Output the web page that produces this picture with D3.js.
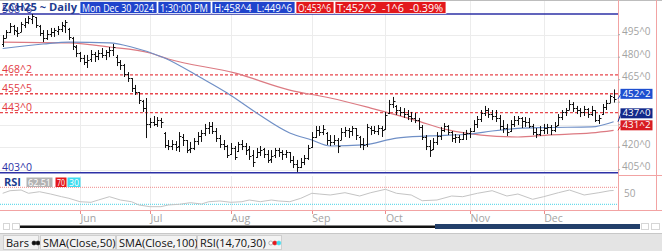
<!DOCTYPE html>
<html>
<head>
<meta charset="utf-8">
<script src="https://cdn.jsdelivr.net/npm/d3@7"></script>
<style>
body { margin: 0; background: #fff; }
svg { display: block; font-family: "Open Sans", "Noto Sans", sans-serif; }
</style>
</head>
<body>
<div id="chart"></div>
<script>
// ZCH25 daily bars, May 2 .. Dec 30 2024 (one entry per trading day)
var barOpen = [
  489.0, 493.0, 497.0, 500.5, 497.5, 497.0, 501.5, 503.5, 505.5, 506.5,
  501.0, 496.0, 493.0, 495.5, 497.0, 497.5, 498.5, 501.0, 498.5, 493.0,
  487.0, 482.5, 479.5, 477.0, 478.5, 482.0, 481.0, 483.0, 481.5, 483.5,
  485.0, 480.0, 477.0, 475.0, 469.0, 466.0, 459.5, 456.5, 451.0, 446.0,
  435.5, 437.0, 435.5, 438.0, 429.5, 421.5, 421.0, 422.0, 420.5, 427.0,
  424.5, 418.5, 419.5, 424.0, 427.5, 429.5, 433.0, 434.0, 430.5, 426.0,
  422.0, 420.5, 415.5, 419.5, 417.5, 422.0, 421.0, 418.5, 414.5, 413.5,
  417.0, 418.5, 415.5, 412.0, 414.5, 418.0, 417.0, 415.5, 416.5, 411.5,
  408.5, 407.0, 410.0, 413.0, 420.0, 427.0, 431.5, 430.0, 429.5, 425.0,
  423.5, 424.5, 425.0, 430.0, 431.5, 430.5, 432.5, 427.0, 422.0, 422.0,
  433.0, 431.5, 430.5, 432.5, 432.0, 442.5, 448.5, 447.5, 445.0, 443.5,
  442.0, 441.0, 439.5, 438.0, 433.5, 426.5, 421.0, 418.5, 423.5, 427.5,
  431.5, 434.0, 430.0, 426.0, 427.0, 425.5, 428.5, 429.5, 431.0, 435.5,
  439.0, 443.0, 445.0, 442.0, 441.0, 439.5, 434.0, 433.0, 430.5, 435.5,
  438.0, 439.5, 437.5, 437.0, 434.0, 430.0, 429.0, 431.5, 433.0, 433.5,
  431.5, 434.5, 440.0, 443.5, 445.0, 448.5, 446.0, 445.0, 443.5, 445.5,
  442.0, 444.5, 438.0, 442.0, 447.0, 449.75, 453.75
];
var barHigh = [
  494.8, 498.1, 502.8, 501.5, 500.1, 503.5, 506.1, 507.5, 508.8, 506.8,
  501.5, 498.1, 498.1, 499.5, 499.5, 500.8, 503.5, 504.8, 499.5, 493.5,
  488.1, 483.5, 481.5, 481.5, 484.8, 483.5, 484.8, 486.1, 484.8, 486.8,
  488.8, 481.5, 478.1, 475.5, 470.1, 466.1, 461.5, 456.8, 451.5, 452.8,
  439.5, 440.8, 440.1, 439.5, 430.1, 424.8, 424.8, 424.1, 430.1, 428.8,
  424.8, 423.5, 426.1, 430.1, 431.5, 435.5, 436.8, 436.8, 432.8, 428.1,
  424.8, 421.5, 422.8, 420.8, 423.5, 424.8, 422.8, 420.8, 418.1, 419.5,
  420.8, 419.5, 418.1, 418.1, 419.5, 419.5, 418.1, 418.1, 416.8, 414.1,
  411.5, 412.8, 414.8, 421.5, 430.1, 434.1, 434.1, 434.8, 430.1, 428.1,
  428.1, 426.1, 432.8, 433.5, 432.8, 434.1, 432.8, 427.5, 426.1, 435.5,
  434.1, 434.1, 434.8, 434.1, 443.5, 451.5, 453.5, 448.1, 446.8, 446.1,
  444.8, 443.5, 442.8, 439.5, 434.8, 428.1, 424.8, 426.1, 430.1, 433.5,
  436.1, 434.8, 430.8, 428.8, 428.1, 430.1, 431.5, 432.8, 438.1, 440.8,
  444.8, 447.5, 446.1, 444.8, 444.8, 441.5, 438.1, 435.5, 438.1, 440.8,
  440.8, 440.1, 440.1, 439.5, 435.5, 432.8, 434.1, 435.5, 435.5, 434.8,
  436.8, 442.1, 444.8, 446.1, 451.5, 450.1, 447.5, 446.1, 447.5, 446.1,
  447.5, 444.8, 441.5, 448.8, 451.5, 455.0, 458.5
];
var barLow = [
  486.8, 492.8, 496.1, 494.8, 493.5, 496.8, 499.5, 502.1, 502.1, 499.5,
  494.1, 490.1, 491.5, 493.5, 493.5, 494.8, 496.8, 496.1, 491.5, 484.8,
  480.1, 476.8, 474.8, 472.8, 476.8, 476.8, 478.1, 479.5, 478.1, 480.1,
  480.8, 474.1, 471.5, 466.8, 463.5, 456.8, 454.8, 448.8, 443.5, 426.1,
  432.8, 434.1, 433.5, 432.8, 419.5, 418.1, 418.1, 417.5, 416.8, 420.8,
  416.1, 416.1, 418.1, 421.5, 423.5, 427.5, 428.8, 428.8, 423.5, 419.5,
  418.1, 412.8, 414.8, 411.5, 416.8, 418.1, 414.8, 411.5, 406.8, 412.8,
  414.1, 412.8, 409.5, 409.5, 412.8, 413.5, 411.5, 412.8, 409.5, 406.1,
  403.5, 406.1, 408.1, 411.5, 419.5, 426.1, 427.5, 428.1, 421.5, 420.8,
  421.5, 416.1, 424.8, 426.8, 426.1, 427.5, 424.8, 419.5, 418.1, 420.1,
  428.1, 428.8, 428.1, 426.8, 431.5, 442.1, 446.1, 441.5, 440.8, 439.5,
  438.1, 436.8, 436.1, 431.5, 424.8, 418.1, 413.5, 418.1, 421.5, 424.8,
  430.1, 428.1, 423.5, 422.8, 422.8, 424.8, 424.8, 426.1, 430.1, 432.8,
  436.8, 440.8, 439.5, 438.1, 436.8, 431.5, 429.5, 427.5, 430.1, 433.5,
  434.8, 432.8, 433.5, 432.8, 428.1, 426.1, 427.5, 428.8, 428.8, 428.1,
  430.1, 434.1, 438.1, 440.8, 444.8, 443.5, 442.1, 440.1, 440.8, 439.5,
  440.8, 436.8, 435.5, 441.5, 444.8, 449.5, 449.75
];
var barClose = [
  492.8, 496.8, 500.8, 498.1, 496.1, 502.1, 503.5, 506.1, 507.5, 501.5,
  496.1, 492.8, 495.5, 496.8, 498.1, 498.8, 501.5, 503.5, 493.5, 487.5,
  482.8, 479.5, 476.8, 478.1, 482.1, 480.8, 482.8, 481.5, 483.5, 484.8,
  486.8, 476.8, 474.8, 468.8, 466.1, 459.5, 456.8, 451.5, 446.1, 435.5,
  436.8, 435.5, 438.1, 436.8, 421.5, 420.8, 422.1, 420.1, 427.5, 424.8,
  418.1, 419.5, 424.1, 427.5, 429.5, 432.8, 434.1, 430.8, 426.1, 422.1,
  420.8, 414.8, 419.5, 413.5, 422.1, 420.8, 418.1, 414.1, 410.1, 416.8,
  418.1, 415.5, 411.5, 414.1, 418.1, 416.8, 415.5, 416.8, 411.5, 408.8,
  406.8, 410.1, 412.8, 419.5, 426.8, 431.5, 430.1, 432.1, 424.8, 423.5,
  424.8, 420.8, 430.1, 431.5, 430.8, 432.8, 428.1, 422.1, 421.5, 433.5,
  431.5, 430.8, 432.8, 431.5, 441.5, 448.8, 450.8, 444.8, 443.5, 442.1,
  440.8, 439.5, 438.1, 433.5, 426.8, 420.8, 418.1, 423.5, 427.5, 431.5,
  434.1, 430.1, 426.1, 426.8, 425.5, 428.8, 429.5, 430.8, 435.5, 438.8,
  442.8, 444.8, 442.1, 440.8, 439.5, 434.1, 432.8, 430.1, 435.5, 438.1,
  439.5, 437.5, 436.8, 434.1, 430.1, 428.8, 431.5, 432.8, 433.5, 431.5,
  434.1, 440.1, 443.5, 444.8, 448.8, 446.1, 444.8, 443.5, 445.5, 442.1,
  444.8, 438.1, 439.5, 446.8, 449.5, 454.0, 452.25
];

// moving averages, read at a few bar positions
var sma50Idx = [0, 11, 18, 29, 35, 44, 54, 61, 69, 78, 84, 89, 98, 107, 116, 127, 133, 140, 147, 160, 166];
var sma50Val = [485.8, 488.8, 490.1, 489.5, 486.8, 479.5, 466.1, 456.1, 442.8, 429.5, 424.8, 420.8, 421.5, 426.1, 427.5, 428.8, 430.8, 432.5, 433.1, 433.5, 437.0];
var sma100Idx = [0, 18, 29, 40, 45, 63, 78, 89, 100, 112, 121, 130, 140, 148, 160, 166];
var sma100Val = [490.1, 489.5, 486.8, 482.8, 478.8, 469.5, 458.1, 452.8, 446.1, 438.1, 431.5, 428.1, 426.8, 428.1, 429.5, 431.25];

// RSI(14)
var rsiIdx = [0, 2, 5, 7, 10, 13, 16, 18, 21, 24, 26, 29, 32, 35, 37, 40, 43, 45, 48, 51, 54, 56, 59, 62, 65, 67, 70, 73, 75, 78,
  81, 84, 86, 89, 93, 97, 100, 104, 107, 111, 114, 118, 122, 125, 129, 133, 137, 140, 144, 147, 151, 154, 158, 162, 165, 166];
var rsiVal = [55.9, 62.0, 63.6, 55.9, 59.6, 54.2, 47.9, 44.1, 36.1, 34.7, 40.1, 47.9, 40.1, 36.1, 28.4, 24.4, 24.4, 28.4, 30.0, 33.8,
  30.7, 36.1, 37.8, 34.7, 36.1, 40.1, 36.1, 40.1, 37.8, 36.1, 44.1, 55.9, 54.2, 51.9, 57.3, 49.5, 57.3, 65.3, 55.9, 51.9,
  38.5, 40.1, 49.5, 47.9, 55.9, 62.0, 49.5, 54.2, 41.8, 47.9, 57.3, 63.6, 51.9, 57.3, 62.0, 62.51];

// axis
var monthIdx = [21, 40, 62, 84, 104, 127, 147];
var monthNames = ["Jun", "Jul", "Aug", "Sep", "Oct", "Nov", "Dec"];
var priceTicks = [405, 420, 435, 450, 465, 480, 495];
var redLevels = [468.25, 455.625, 443];
var blueLevels = [508.75, 403];

var symbol = "ZCH25", period = "Daily", dateText = "Mon Dec 30 2024", timeText = "1:30:00 PM";

var W = 662, H = 251, plotRight = 618;
var svg = d3.select("#chart").append("svg").attr("width", W).attr("height", H);

var x = d3.scaleLinear().domain([0, 166]).range([2.7, 613.6]);
var y = d3.scaleLinear().domain([403, 465]).range([172.7, 79.7]);
var yRsi = d3.scaleLinear().domain([30, 70]).range([204.3, 187.3]);

// price in 1/8ths like 452^2
function fmt(v) {
  var s = v < 0 ? "-" : "";
  var a = Math.abs(v), f = Math.floor(a + 1e-9);
  return s + f + "^" + Math.round((a - f) * 8);
}
var px = function (v) { return Math.round(v) + 0.5; };

// frame
svg.append("line").attr("x1", 0).attr("x2", W).attr("y1", 0.5).attr("y2", 0.5).attr("stroke", "#bdbdbd");

// grid
var grid = svg.append("g").attr("stroke", "#ececec").attr("shape-rendering", "crispEdges");
monthIdx.forEach(function (m) {
  grid.append("line").attr("x1", px(x(m))).attr("x2", px(x(m))).attr("y1", 1).attr("y2", 172);
  grid.append("line").attr("x1", px(x(m))).attr("x2", px(x(m))).attr("y1", 176).attr("y2", 210);
});
priceTicks.forEach(function (t) {
  grid.append("line").attr("x1", 0).attr("x2", plotRight).attr("y1", px(y(t))).attr("y2", px(y(t)));
});

// key levels
var lv = svg.append("g");
redLevels.forEach(function (v) {
  lv.append("line").attr("x1", 0).attr("x2", plotRight).attr("y1", y(v)).attr("y2", y(v))
    .attr("stroke", "#e8474d").attr("stroke-width", 1.3).attr("stroke-dasharray", "3,2");
  lv.append("text").attr("x", 2).attr("y", y(v) - 2).attr("font-size", 10.5).attr("fill", "#e23b3f").text(fmt(v));
});
blueLevels.forEach(function (v) {
  lv.append("line").attr("x1", 0).attr("x2", plotRight).attr("y1", y(v)).attr("y2", y(v))
    .attr("stroke", "#2d31a6").attr("stroke-width", 1.5);
  lv.append("text").attr("x", 2).attr("y", y(v) - 1.5).attr("font-size", 10.5).attr("fill", "#2d31a6").text(fmt(v));
});

// moving averages
var line = d3.line().x(function (d) { return x(d[0]); }).y(function (d) { return y(d[1]); }).curve(d3.curveMonotoneX);
svg.append("path").attr("d", line(d3.zip(sma100Idx, sma100Val))).attr("fill", "none")
  .attr("stroke", "#dc7a82").attr("stroke-width", 1.2);
svg.append("path").attr("d", line(d3.zip(sma50Idx, sma50Val))).attr("fill", "none")
  .attr("stroke", "#6f8fc6").attr("stroke-width", 1.2);

// OHLC bars
svg.append("g").selectAll("path").data(barClose).enter().append("path")
  .attr("d", function (c, i) {
    var xi = px(x(i));
    return "M" + xi + "," + y(barHigh[i]) + "V" + y(barLow[i]) +
      "M" + (xi - 1.5) + "," + Math.round(y(barOpen[i])) + ".5H" + xi +
      "M" + xi + "," + Math.round(y(c)) + ".5H" + (xi + 2);
  })
  .attr("stroke", "#111").attr("stroke-width", 1).attr("fill", "none");

// right axis
var ax = svg.append("g").attr("stroke", "#f2a3a3").attr("shape-rendering", "crispEdges");
ax.append("line").attr("x1", plotRight + 0.5).attr("x2", plotRight + 0.5).attr("y1", 0).attr("y2", 211);
ax.append("line").attr("x1", 656.5).attr("x2", 656.5).attr("y1", 0).attr("y2", 211);
ax.append("line").attr("x1", plotRight).attr("x2", W).attr("y1", 175.5).attr("y2", 175.5);
ax.append("line").attr("x1", 0).attr("x2", W).attr("y1", 210.5).attr("y2", 210.5);

// price value boxes (pushed up when they collide)
var boxes = [
  { v: barClose[166], fill: "#1e4fd0" },
  { v: sma50Val[sma50Val.length - 1], fill: "#13288a" },
  { v: sma100Val[sma100Val.length - 1], fill: "#d81c22" }
].sort(function (a, b) { return a.v - b.v; });
var prevTop = 999;
boxes.forEach(function (b) {
  b.bottom = Math.min(y(b.v), prevTop - 2);
  prevTop = b.bottom - 10;
});

priceTicks.forEach(function (t) {
  var ty = y(t);
  var hidden = boxes.some(function (b) { return ty > b.bottom - 14 && ty < b.bottom + 8; });
  svg.append("line").attr("x1", plotRight).attr("x2", plotRight + 2).attr("y1", ty).attr("y2", ty).attr("stroke", "#aaa");
  if (!hidden) svg.append("text").attr("x", 622).attr("y", ty + 0.5).attr("font-size", 10).attr("fill", "#a3a3a3").text(fmt(t));
});

boxes.forEach(function (b) {
  svg.append("line").attr("x1", plotRight).attr("y1", y(b.v)).attr("x2", 621).attr("y2", b.bottom - 5)
    .attr("stroke", b.fill).attr("stroke-width", 1);
  svg.append("rect").attr("x", 620.5).attr("y", b.bottom - 10).attr("width", 32).attr("height", 10).attr("fill", b.fill);
  svg.append("text").attr("x", 622.5).attr("y", b.bottom - 2).attr("font-size", 9.5).attr("fill", "#fff")
    .attr("textLength", 28).attr("lengthAdjust", "spacingAndGlyphs").text(fmt(b.v));
});

// header
var last = 166;
var chg = barClose[last] - barClose[last - 1];
var pct = chg / barClose[last - 1] * 100;
var hdr = svg.append("g");
hdr.append("text").attr("x", 2).attr("y", 11).attr("font-size", 11).attr("font-weight", "bold")
  .attr("fill", "#1d3b8f").text(symbol + " ~ " + period).attr("textLength", 75).attr("lengthAdjust", "spacingAndGlyphs");
var cells = [
  { t: dateText, x0: 80, x1: 157, fill: "#1f44cc" },
  { t: timeText, x0: 158, x1: 211, fill: "#1f44cc" },
  { t: "H:" + fmt(barHigh[last]) + "  L:" + fmt(barLow[last]), x0: 212, x1: 295, fill: "#1f44cc" },
  { t: "O:" + fmt(barOpen[last]), x0: 296, x1: 334, fill: "#e3181c" },
  { t: "T:" + fmt(barClose[last]) + "  " + fmt(chg) + "  " + pct.toFixed(2) + "%", x0: 335, x1: 446, fill: "#e3181c" }
];
cells.forEach(function (c) {
  hdr.append("rect").attr("x", c.x0).attr("y", 1.5).attr("width", c.x1 - c.x0).attr("height", 12)
    .attr("fill", c.fill).attr("stroke", "#fff").attr("stroke-width", 0.8);
  hdr.append("text").attr("x", c.x0 + 2).attr("y", 11.5).attr("font-size", 10.5).attr("fill", "#fff")
    .style("white-space", "pre")
    .attr("textLength", c.x1 - c.x0 - 5).attr("lengthAdjust", "spacingAndGlyphs").text(c.t);
});

// RSI panel
svg.append("line").attr("x1", 0).attr("x2", plotRight).attr("y1", yRsi(70)).attr("y2", yRsi(70))
  .attr("stroke", "#f08a8a").attr("stroke-dasharray", "1,1");
svg.append("line").attr("x1", 0).attr("x2", plotRight).attr("y1", yRsi(30)).attr("y2", yRsi(30))
  .attr("stroke", "#46d3e6").attr("stroke-dasharray", "1,1");
var rsiLine = d3.line().x(function (d) { return x(d[0]); }).y(function (d) { return yRsi(d[1]); });
svg.append("path").attr("d", rsiLine(d3.zip(rsiIdx, rsiVal))).attr("fill", "none")
  .attr("stroke", "#c4c4c4").attr("stroke-width", 1);
svg.append("text").attr("x", 624).attr("y", yRsi(50) + 1.5).attr("font-size", 10).attr("fill", "#a3a3a3").text("50");

svg.append("text").attr("x", 4).attr("y", 186).attr("font-size", 11).attr("font-weight", "bold").attr("fill", "#1d3b8f").text("RSI");
var tags = [
  { t: rsiVal[rsiVal.length - 1].toFixed(2), x0: 26.5, w: 26, fill: "#b3b3b3" },
  { t: "70", x0: 55.5, w: 11, fill: "#e3181c" },
  { t: "30", x0: 67.5, w: 13, fill: "#3fdcf0" }
];
tags.forEach(function (g) {
  svg.append("rect").attr("x", g.x0).attr("y", 177.5).attr("width", g.w).attr("height", 9.5).attr("fill", g.fill);
  svg.append("text").attr("x", g.x0 + 1.5).attr("y", 185.6).attr("font-size", 9.5).attr("fill", "#fff")
    .attr("textLength", g.w - 3).attr("lengthAdjust", "spacingAndGlyphs").text(g.t);
});

// x axis months
monthIdx.forEach(function (m, i) {
  svg.append("line").attr("x1", px(x(m))).attr("x2", px(x(m))).attr("y1", 211).attr("y2", 214).attr("stroke", "#f08a8a");
  svg.append("text").attr("x", x(m) + 0.5).attr("y", 221.5).attr("font-size", 10.5).attr("fill", "#a3a3a3").text(monthNames[i]);
});

// scroll bar
[[3, 223.5, 6], [12, 223.5, 7], [641, 223.5, 7], [651, 223.5, 8]].forEach(function (b) {
  svg.append("rect").attr("x", b[0] + 0.5).attr("y", b[1]).attr("width", b[2]).attr("height", 6)
    .attr("fill", "#fff").attr("stroke", "#d6d6d6");
});
svg.append("rect").attr("x", 20).attr("y", 225.5).attr("width", 416).attr("height", 2.5).attr("fill", "#111");
svg.append("rect").attr("x", 435).attr("y", 224).attr("width", 205).attr("height", 5).attr("fill", "#223f6a");

// bottom legend tabs
svg.append("rect").attr("x", 0).attr("y", 233).attr("width", W).attr("height", 18).attr("fill", "#e4e4e4");
svg.append("line").attr("x1", 0).attr("x2", W).attr("y1", 233.5).attr("y2", 233.5).attr("stroke", "#c8c8c8");
var tabs = [
  { t: "Bars", x0: 3, x1: 38, dots: ["#111", "#111"] },
  { t: "SMA(Close,50)", x0: 40, x1: 115, dots: ["#1c2f8a"] },
  { t: "SMA(Close,100)", x0: 116, x1: 196, dots: ["#b3141a"] },
  { t: "RSI(14,70,30)", x0: 197, x1: 281, dots: ["#fff", "#e3181c", "#3fdcf0"] }
];
tabs.forEach(function (tb) {
  svg.append("rect").attr("x", tb.x0 + 0.5).attr("y", 235.5).attr("width", tb.x1 - tb.x0).attr("height", 14)
    .attr("fill", "#f3f3f3").attr("stroke", "#cfcfcf");
  var tx = svg.append("text").attr("x", tb.x0 + 3).attr("y", 246.5).attr("font-size", 11).attr("fill", "#111").text(tb.t);
  var tw = tx.node().getComputedTextLength();
  tb.dots.forEach(function (c, k) {
    svg.append("circle").attr("cx", tb.x0 + 3 + tw + 5 + k * 4).attr("cy", 243).attr("r", 2)
      .attr("fill", c).attr("stroke", c === "#fff" ? "#888" : c).attr("stroke-width", 0.6);
  });
});
</script>
</body>
</html>
